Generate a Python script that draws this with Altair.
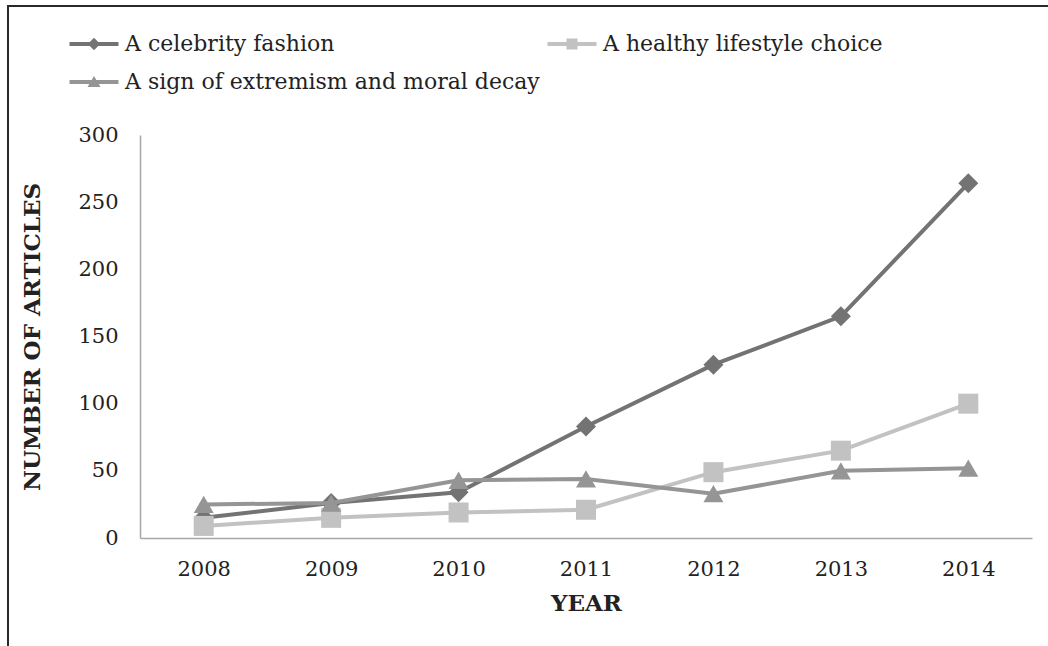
import altair as alt
import pandas as pd

years = ["2008", "2009", "2010", "2011", "2012", "2013", "2014"]
series_names = ["A celebrity fashion", "A healthy lifestyle choice",
                "A sign of extremism and moral decay"]
celebrity = [15, 26, 34, 83, 129, 165, 264]
healthy = [9, 15, 19, 21, 49, 65, 100]
extremism = [25, 26, 43, 44, 33, 50, 52]
colors = ["#737373", "#c2c2c2", "#959595"]
shapes = ["diamond", "square", "triangle-up"]

rows = []
for name, vals in zip(series_names, [celebrity, healthy, extremism]):
    for y, v in zip(years, vals):
        rows.append({"year": y, "series": name, "value": v})
df = pd.DataFrame(rows)

FONT = "DejaVu Serif"

# legend symbol paths: a line with the series marker on it (unit = 10 px at size 400)
bar = "M-2.45,-0.2H2.45V0.2H-2.45Z"
leg_paths = [
    bar + " M0,-0.62L0.62,0L0,0.62L-0.62,0Z",
    bar + " M-0.55,-0.55H0.55V0.55H-0.55Z",
    bar + " M0,-0.6L0.65,0.5H-0.65Z",
]

legend = alt.Legend(
    title=None, orient="none", direction="horizontal", legendX=-57, legendY=-102,
    columns=2, columnPadding=7, rowPadding=16, padding=0, values=series_names,
    symbolSize=400, labelOffset=20, labelFont=FONT, labelFontSize=22,
    labelColor="#222222", labelLimit=600, symbolStrokeWidth=0,
    symbolOpacity=1,
)

xenc = alt.X("year:O", scale=alt.Scale(type="point", padding=0.5),
             axis=alt.Axis(title="YEAR", labelAngle=0))
yenc = alt.Y("value:Q", scale=alt.Scale(domain=[0, 300]),
             axis=alt.Axis(title="NUMBER OF ARTICLES", values=[0, 50, 100, 150, 200, 250, 300]))
cscale = alt.Scale(domain=series_names, range=colors)

series_layers = []
for name, shp, col in zip(series_names, shapes, colors):
    base = alt.Chart(df).transform_filter(alt.datum.series == name)
    series_layers.append(
        base.mark_line(strokeWidth=4, color=col).encode(
            x=xenc, y=yenc, order=alt.Order("year:O")))
    series_layers.append(
        base.mark_point(filled=True, size=400, opacity=1, shape=shp, color=col)
        .encode(x=xenc, y=yenc))

# legend-only layer: its points sit far outside the clipped plot area
legend_layer = alt.Chart(df).transform_calculate(hidden="-1000").mark_point(
    filled=True, size=400, opacity=1, clip=True).encode(
    x=xenc,
    y=alt.Y("hidden:Q", axis=alt.Axis(title="NUMBER OF ARTICLES")),
    color=alt.Color("series:N", scale=cscale, legend=legend),
    shape=alt.Shape("series:N", scale=alt.Scale(domain=series_names, range=leg_paths),
                    legend=legend),
)

frame_df = pd.DataFrame({"k": [0]})
top_border = alt.Chart(frame_df).mark_rule(color="#2a2a2a", strokeWidth=2).encode(
    x=alt.value(-132), x2=alt.value(910), y=alt.value(-129))
left_border = alt.Chart(frame_df).mark_rule(color="#2a2a2a", strokeWidth=2).encode(
    x=alt.value(-132), y=alt.value(-130), y2=alt.value(515))

chart = alt.layer(*series_layers, legend_layer, top_border, left_border).properties(
    width=892, height=403,
    padding={"left": 140, "top": 135, "right": 16, "bottom": 108},
    autosize=alt.AutoSizeParams(type="none"),
    background="white",
).configure_view(stroke=None).configure_axis(
    grid=False, ticks=False, tickSize=0, domainColor="#a8a8a8", domainWidth=1.5,
    labelFont=FONT, labelFontSize=21, labelColor="#222222",
    titleFont=FONT, titleFontSize=23, titleFontWeight="bold", titleColor="#222222",
).configure_axisX(labelPadding=20, titlePadding=13).configure_axisY(
    labelPadding=22, titlePadding=33)

chart.save("out.html", embed_options={"renderer": "svg", "actions": False})
